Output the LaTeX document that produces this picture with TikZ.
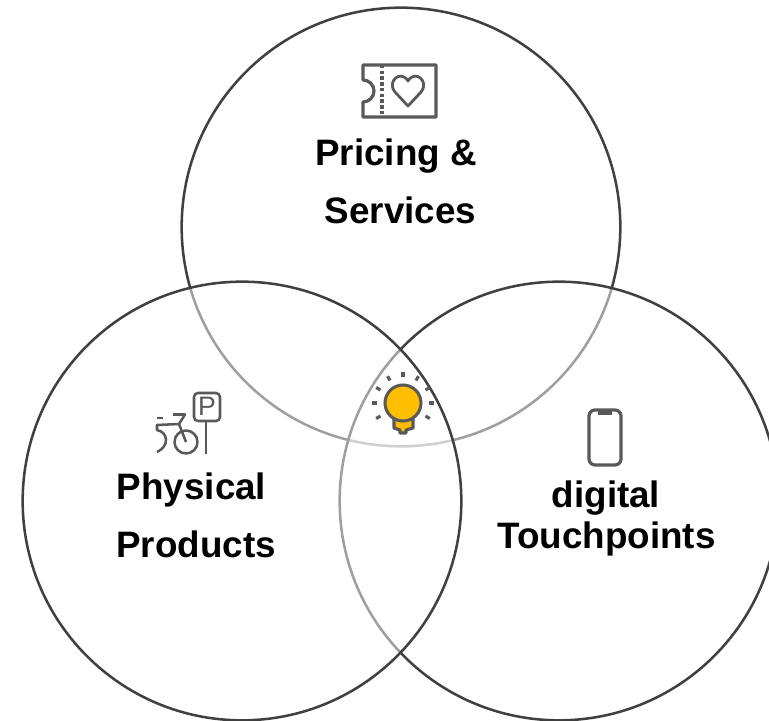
\documentclass[tikz,border=0pt]{standalone}
\usepackage{fontspec}
\usetikzlibrary{calc}
\setmainfont{Liberation Sans}
\tikzset{
  venn/.style={circle,draw=ringc,line width=1.9pt,inner sep=0pt,minimum size=329pt},
  vennveil/.style={venn,fill=white,fill opacity=.5,draw opacity=1},
  lab/.style={font=\fontsize{27.6}{27.6}\selectfont\bfseries,anchor=base,inner sep=0pt,text=black},
  ico/.style={draw=iconc,line width=2.4pt,line join=round},
  icothin/.style={draw=iconc,line width=1.9pt,line join=round}
}
\definecolor{ringc}{HTML}{404040}
\definecolor{iconc}{HTML}{595959}
\definecolor{bulbc}{HTML}{FFBF00}
\begin{document}
\begin{tikzpicture}[x=0.75pt,y=-0.75pt]
\useasboundingbox (0,0) rectangle (769,721);
\clip (0,0) rectangle (769,721);
\node[venn] (top) at (401,227) {};
\node[vennveil] (right) at (559,501) {};
\node[vennveil] (left) at (242,501) {};
% ticket
\draw[ico] (436,65) -- (363,65) -- (363,80) arc (-90:90:11) -- (363,117) -- (436,117) -- cycle;
\draw[ico,dash pattern=on 2.6pt off 1.7pt] (382,65) -- (382,117);
\draw[ico,line width=2.1pt] (408,106) -- (395,92)
  .. controls (388,84) and (396,73) .. (404,77)
  .. controls (406,78) and (407,79) .. (408,81)
  .. controls (409,79) and (410,78) .. (412,77)
  .. controls (420,73) and (428,84) .. (421,92) -- cycle;
% bicycle and parking sign
\draw[icothin,rounded corners=3pt] (194,393) rectangle (220,421);
\draw[icothin] (206,421) -- (206,454);
\node[font=\fontsize{20}{20}\selectfont,anchor=base,inner sep=0pt,text=iconc] (plabel) at (207,415) {P};
\draw[icothin] (186,442) circle (11.5);
\draw[icothin] (179,424) -- (157,425) -- (157,430) .. controls (168,432) and (170,446) .. (157,452);
\draw[icothin] (173,414.5) -- (185,414.5) -- (179,424) -- (186,442);
\draw[icothin] (157,418) -- (163,418);
% phone
\draw[ico,rounded corners=4.5pt] (589,410) rectangle (621,465);
\draw[ico] (598,413) -- (612,413);
% bulb
\draw[ico,fill=bulbc] (394,419) -- (394,428) -- (400,430) -- (400,433) -- (406,433) -- (406,430) -- (413,428) -- (413,419) -- cycle;
\draw[ico,line width=2.3pt,fill=bulbc] (403,403) circle (18);
\foreach \a in {0,30,150,180,210,240,270,300,330}{
  \draw[ico,line width=2.3pt] ($(403,403)+(\a:26)$) -- ($(403,403)+(\a:31)$);
}
% labels
\node[lab] (pricing) at (396,165) {Pricing \&};
\node[lab] (services) at (400.5,223) {Services};
\node[lab] (physical) at (191.5,499) {Physical};
\node[lab] (products) at (196,557) {Products};
\node[lab] (digital) at (606,507) {digital};
\node[lab] (touch) at (606.5,548) {Touchpoints};
\end{tikzpicture}
\end{document}
